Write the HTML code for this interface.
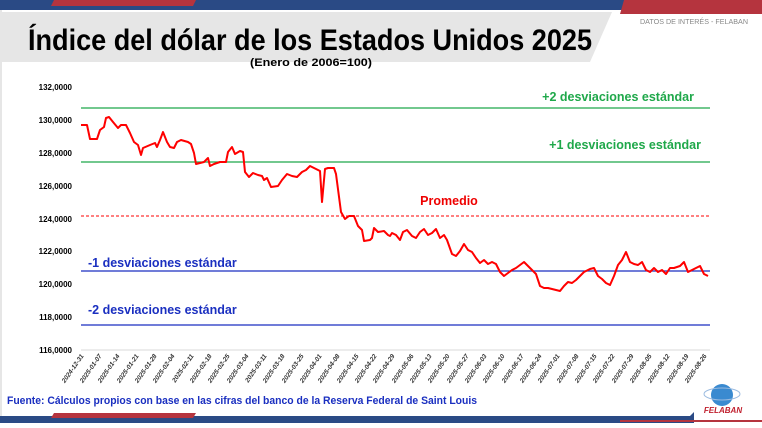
<!DOCTYPE html>
<html><head><meta charset="utf-8"><style>
body{margin:0;width:762px;height:423px;overflow:hidden;background:#fff;font-family:"Liberation Sans",sans-serif;}
</style></head><body>
<svg width="762" height="423" xmlns="http://www.w3.org/2000/svg" font-family="Liberation Sans, sans-serif">
<rect x="0" y="0" width="762" height="423" fill="#fff"/>
<line x1="1" y1="0" x2="1" y2="423" stroke="#ccc"/>
<rect x="0" y="0" width="762" height="10" fill="#2a4a85"/>
<polygon points="54,0 196,0 193,6 51,6" fill="#b5343e"/>
<polygon points="624,0 762,0 762,14 620,14" fill="#b5343e"/>
<polygon points="0,12 612,12 590,62 0,62" fill="#e6e6e6"/>
<text x="28" y="50" font-size="30" font-weight="bold" fill="#000" textLength="564" lengthAdjust="spacingAndGlyphs">Índice del dólar de los Estados Unidos 2025</text>
<text x="250" y="66" font-size="11" font-weight="bold" fill="#000" textLength="122" lengthAdjust="spacingAndGlyphs">(Enero de 2006=100)</text>
<text x="640" y="24" font-size="7.5" fill="#888" textLength="108" lengthAdjust="spacingAndGlyphs">DATOS DE INTERÉS - FELABAN</text>
<g font-size="8" font-weight="bold" fill="#000" text-anchor="end">
<text x="72" y="90">132,0000</text><text x="72" y="123">130,0000</text><text x="72" y="156">128,0000</text>
<text x="72" y="189">126,0000</text><text x="72" y="222">124,0000</text><text x="72" y="254">122,0000</text>
<text x="72" y="287">120,0000</text><text x="72" y="320">118,0000</text><text x="72" y="353">116,0000</text>
</g>
<line x1="81" y1="350" x2="710" y2="350" stroke="#d9d9d9"/>
<line x1="81" y1="108" x2="710" y2="108" stroke="#1fa84a" stroke-width="1.2"/>
<line x1="81" y1="162" x2="710" y2="162" stroke="#1fa84a" stroke-width="1.2"/>
<line x1="81" y1="216" x2="710" y2="216" stroke="#f00" stroke-dasharray="3,2"/>
<line x1="81" y1="271" x2="710" y2="271" stroke="#1a2fc0" stroke-width="1.2"/>
<line x1="81" y1="325" x2="710" y2="325" stroke="#1a2fc0" stroke-width="1.2"/>
<g font-size="12.5" font-weight="bold">
<text x="694" y="101" text-anchor="end" fill="#1fa84a">+2 desviaciones estándar</text>
<text x="701" y="149" text-anchor="end" fill="#1fa84a">+1 desviaciones estándar</text>
<text x="449" y="205" text-anchor="middle" fill="#e00">Promedio</text>
<text x="88" y="267" fill="#1a2fc0">-1 desviaciones estándar</text>
<text x="88" y="314" fill="#1a2fc0">-2 desviaciones estándar</text>
</g>
<polyline fill="none" stroke="#f00" stroke-width="2" stroke-linejoin="round" points="81,125 87,125 90,139 97,139 100,130 104,127 106,118 109,117 113,122 118,128 121,125 126,125 130,133 134,142 138,145 141,155 143,148 150,145 155,143 157,147 160,140 163,132 167,142 170,147 174,148 177,142 181,140 188,142 191,144 194,153 196,164 200,163 204,162 208,158 210,166 214,164 220,162 226,162 228,152 232,147 235,154 240,151 243,152 245,172 249,177 253,173 258,175 262,176 264,180 267,178 271,187 278,186 282,180 287,174 292,176 297,177 302,172 306,170 310,166 316,169 320,171 322,202 325,169 328,168 334,168 336,174 341,212 345,219 349,216 354,216 358,226 362,230 364,241 370,240 372,238 374,228 378,232 384,231 388,235 390,236 392,233 396,235 400,240 403,232 407,230 412,236 416,238 420,232 424,229 428,235 432,233 436,229 440,238 444,235 447,240 452,254 456,256 460,251 464,244 468,250 472,252 476,258 480,263 484,260 488,264 492,262 496,264 500,272 504,276 508,273 512,270 516,268 520,265 524,262 528,266 532,270 536,274 540,286 544,288 548,288 552,289 556,290 560,291 564,286 568,282 572,283 576,280 580,276 584,272 590,269 594,268 598,276 602,279 606,283 610,285 614,276 618,265 622,260 626,252 630,262 634,264 638,265 642,262 646,270 650,272 654,268 658,272 662,270 666,274 670,268 674,268 680,266 684,262 688,272 692,270 696,268 700,266 704,274 708,276"/>
<g font-size="6.5" font-style="italic" font-weight="bold" fill="#333">
<text transform="translate(84,356) rotate(-55)" text-anchor="end">2024-12-31</text>
<text transform="translate(102,356) rotate(-55)" text-anchor="end">2025-01-07</text>
<text transform="translate(120,356) rotate(-55)" text-anchor="end">2025-01-14</text>
<text transform="translate(139,356) rotate(-55)" text-anchor="end">2025-01-21</text>
<text transform="translate(157,356) rotate(-55)" text-anchor="end">2025-01-28</text>
<text transform="translate(175,356) rotate(-55)" text-anchor="end">2025-02-04</text>
<text transform="translate(194,356) rotate(-55)" text-anchor="end">2025-02-11</text>
<text transform="translate(212,356) rotate(-55)" text-anchor="end">2025-02-18</text>
<text transform="translate(230,356) rotate(-55)" text-anchor="end">2025-02-25</text>
<text transform="translate(249,356) rotate(-55)" text-anchor="end">2025-03-04</text>
<text transform="translate(267,356) rotate(-55)" text-anchor="end">2025-03-11</text>
<text transform="translate(285,356) rotate(-55)" text-anchor="end">2025-03-18</text>
<text transform="translate(304,356) rotate(-55)" text-anchor="end">2025-03-25</text>
<text transform="translate(322,356) rotate(-55)" text-anchor="end">2025-04-01</text>
<text transform="translate(340,356) rotate(-55)" text-anchor="end">2025-04-08</text>
<text transform="translate(359,356) rotate(-55)" text-anchor="end">2025-04-15</text>
<text transform="translate(377,356) rotate(-55)" text-anchor="end">2025-04-22</text>
<text transform="translate(395,356) rotate(-55)" text-anchor="end">2025-04-29</text>
<text transform="translate(414,356) rotate(-55)" text-anchor="end">2025-05-06</text>
<text transform="translate(432,356) rotate(-55)" text-anchor="end">2025-05-13</text>
<text transform="translate(450,356) rotate(-55)" text-anchor="end">2025-05-20</text>
<text transform="translate(469,356) rotate(-55)" text-anchor="end">2025-05-27</text>
<text transform="translate(487,356) rotate(-55)" text-anchor="end">2025-06-03</text>
<text transform="translate(505,356) rotate(-55)" text-anchor="end">2025-06-10</text>
<text transform="translate(524,356) rotate(-55)" text-anchor="end">2025-06-17</text>
<text transform="translate(542,356) rotate(-55)" text-anchor="end">2025-06-24</text>
<text transform="translate(560,356) rotate(-55)" text-anchor="end">2025-07-01</text>
<text transform="translate(579,356) rotate(-55)" text-anchor="end">2025-07-08</text>
<text transform="translate(597,356) rotate(-55)" text-anchor="end">2025-07-15</text>
<text transform="translate(615,356) rotate(-55)" text-anchor="end">2025-07-22</text>
<text transform="translate(634,356) rotate(-55)" text-anchor="end">2025-07-29</text>
<text transform="translate(652,356) rotate(-55)" text-anchor="end">2025-08-05</text>
<text transform="translate(670,356) rotate(-55)" text-anchor="end">2025-08-12</text>
<text transform="translate(689,356) rotate(-55)" text-anchor="end">2025-08-19</text>
<text transform="translate(707,356) rotate(-55)" text-anchor="end">2025-08-26</text>
</g>
<text x="7" y="404" font-size="11" font-weight="bold" fill="#1a2fc0" textLength="470" lengthAdjust="spacingAndGlyphs">Fuente: Cálculos propios con base en las cifras del banco de la Reserva Federal de Saint Louis</text>
<ellipse cx="722" cy="395" rx="11" ry="11" fill="#3a8ad0"/>
<ellipse cx="722" cy="394" rx="18" ry="6" fill="none" stroke="#9bbbe0" stroke-width="1"/>
<text x="723" y="413" font-size="8" font-weight="bold" font-style="italic" fill="#c0202e" text-anchor="middle">FELABAN</text>
<rect x="0" y="416" width="690" height="7" fill="#2a4a85"/>
<polygon points="690,416 694,412 694,423 690,423" fill="#2a4a85"/>
<polygon points="54,413 196,413 193,418 51,418" fill="#b5343e"/>
<rect x="620" y="420" width="142" height="2" fill="#b5343e"/>
</svg>
</body></html>
